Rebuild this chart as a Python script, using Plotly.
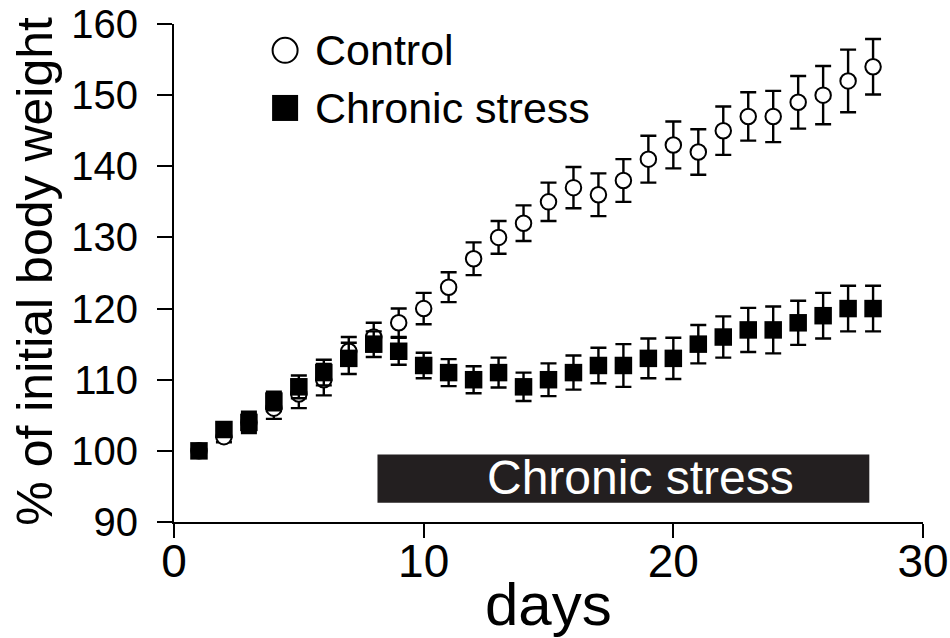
import plotly.graph_objects as go

days = list(range(1, 29))
control_mean = [100, 102, 104, 106, 108, 110, 114, 116, 118, 120, 123, 127, 130, 132,
                135, 137, 136, 138, 141, 143, 142, 145, 147, 147, 149, 150, 152, 154]
control_se = [0.0, 0.8, 1.2, 1.5, 2.0, 2.2, 2.0, 2.0, 2.0, 2.2, 2.1, 2.3, 2.3, 2.5,
              2.7, 2.9, 3.0, 3.0, 3.3, 3.3, 3.2, 3.4, 3.4, 3.6, 3.7, 4.1, 4.4, 3.9]
stress_mean = [100, 103, 104, 107, 109, 111, 113, 115, 114, 112, 111, 110, 111, 109,
               110, 111, 112, 112, 113, 113, 115, 116, 117, 117, 118, 119, 120, 120]
stress_se = [0.0, 0.8, 1.5, 1.3, 1.6, 1.8, 2.2, 1.8, 1.9, 1.8, 1.9, 1.9, 2.1, 2.0,
             2.3, 2.4, 2.5, 3.0, 2.8, 2.9, 2.7, 2.9, 3.1, 3.3, 3.1, 3.2, 3.2, 3.2]
series_names = ["Control", "Chronic stress"]
stress_period = [8.15, 27.85]
x_ticks = [0, 10, 20, 30]
y_ticks = [90, 100, 110, 120, 130, 140, 150, 160]

FONT = "Liberation Sans, Arial, Helvetica"
BLACK = "#000000"

fig = go.Figure()
fig.add_trace(go.Scatter(
    x=days, y=control_mean, mode="markers", name=series_names[0],
    marker=dict(symbol="circle", size=15.5, color="white", line=dict(color=BLACK, width=2)),
    error_y=dict(type="data", array=control_se, color=BLACK, thickness=2.4, width=8),
    showlegend=False))
fig.add_trace(go.Scatter(
    x=days, y=stress_mean, mode="markers", name=series_names[1],
    marker=dict(symbol="square", size=17.5, color=BLACK, line=dict(width=0)),
    error_y=dict(type="data", array=stress_se, color=BLACK, thickness=2.4, width=8),
    showlegend=False))

# Chronic stress period bar
fig.add_shape(type="rect", xref="x", yref="y", x0=stress_period[0], x1=stress_period[1],
              y0=92.7, y1=99.5, fillcolor="#231f20", line=dict(width=0), layer="below")
fig.add_annotation(x=18.67, y=96.2, xref="x", yref="y",
                   text="Chronic stress", showarrow=False,
                   font=dict(family=FONT, size=48, color="white"))

# x-axis overhang left of the y axis
fig.add_shape(type="line", xref="x", yref="y", x0=-0.65, x1=0, y0=90, y1=90,
              line=dict(color=BLACK, width=2))

# manual legend
fig.add_shape(type="circle", xref="x", yref="y", xsizemode="pixel", ysizemode="pixel",
              xanchor=4.45, yanchor=156.3, x0=-12.5, x1=12.5, y0=-12.5, y1=12.5,
              fillcolor="white", line=dict(color=BLACK, width=2))
fig.add_shape(type="rect", xref="x", yref="y", xsizemode="pixel", ysizemode="pixel",
              xanchor=4.45, yanchor=148.2, x0=-13, x1=13, y0=-13, y1=13,
              fillcolor=BLACK, line=dict(width=0))
fig.add_annotation(x=5.55, y=156.3, xref="x", yref="y", text=series_names[0],
                   showarrow=False, xanchor="left", yanchor="middle",
                   font=dict(family=FONT, size=43, color=BLACK))
fig.add_annotation(x=5.55, y=148.2, xref="x", yref="y", text=series_names[1],
                   showarrow=False, xanchor="left", yanchor="middle",
                   font=dict(family=FONT, size=43, color=BLACK))

# axis titles
fig.add_annotation(x=0.5, y=-0.165, xref="paper", yref="paper", text="days",
                   showarrow=False, xanchor="center", yanchor="middle",
                   font=dict(family=FONT, size=60, color=BLACK))
fig.add_annotation(x=-0.186, y=0.504, xref="paper", yref="paper",
                   text="% of initial body weight", textangle=-90,
                   showarrow=False, xanchor="center", yanchor="middle",
                   font=dict(family=FONT, size=50, color=BLACK))

fig.update_layout(
    width=950, height=638,
    margin=dict(l=174, r=27, t=24, b=116, autoexpand=False),
    paper_bgcolor="white", plot_bgcolor="white",
    xaxis=dict(range=[0, 30], tickvals=x_ticks, ticktext=[str(v) for v in x_ticks],
               showline=True, linecolor=BLACK, linewidth=2, ticks="outside",
               ticklen=14, tickwidth=2, tickcolor=BLACK, showgrid=False, zeroline=False,
               tickfont=dict(family=FONT, size=46, color=BLACK),
               ticklabeloverflow="allow", ticklabelstandoff=-16),
    yaxis=dict(range=[90, 160], tickvals=y_ticks, ticktext=[str(v) for v in y_ticks],
               showline=True, linecolor=BLACK, linewidth=2, ticks="outside",
               ticklen=15, tickwidth=2, tickcolor=BLACK, showgrid=False, zeroline=False,
               tickfont=dict(family=FONT, size=40, color=BLACK),
               ticklabeloverflow="allow", ticklabelstandoff=11),
)

# remove the default page margin so the figure fills the 950x638 window exactly
fig.write_html("out.html", config={"displayModeBar": False},
               post_script="document.body.style.margin='0';document.body.style.overflow='hidden';")
